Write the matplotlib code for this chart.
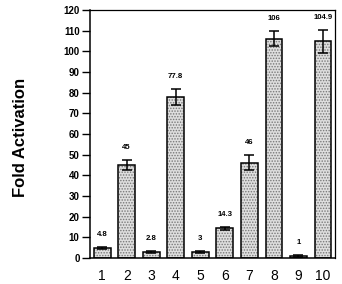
import matplotlib
matplotlib.use('Agg')
import matplotlib.pyplot as plt
import numpy as np

plt.rcParams['font.family'] = ['Liberation Sans', 'DejaVu Sans']
plt.rcParams['hatch.linewidth'] = 0.7

# data
lanes = ['1', '2', '3', '4', '5', '6', '7', '8', '9', '10']
fold = [4.8, 45, 2.8, 77.8, 3, 14.3, 46, 106, 1, 104.9]
err = [0.6, 2.4, 0.5, 4.0, 0.6, 0.8, 3.6, 3.6, 0.3, 5.5]
labels = ['4.8', '45', '2.8', '77.8', '3', '14.3', '46', '106', '1', '104.9']
yticks = list(range(0, 121, 10))

fig = plt.figure(figsize=(3.42, 2.84), dpi=100)
ax = fig.add_axes([0.263, 0.0915, 0.717, 0.8735])

x = np.arange(1, len(lanes) + 1)
w = 0.68

# stippled fill, then a black outline on top
ax.bar(x, fold, width=w, color='#dedede', edgecolor='#777777',
       hatch='......', linewidth=0, zorder=2)
ax.bar(x, fold, width=w, fill=False, edgecolor='black', linewidth=1.1, zorder=3)
ax.errorbar(x, fold, yerr=err, fmt='none', ecolor='black', elinewidth=1.1,
            capsize=3.5, capthick=1.1, zorder=4)

for xi, v, e, lab in zip(x, fold, err, labels):
    ax.annotate(lab, (xi, v + e), xytext=(0, 9), textcoords='offset points',
                ha='center', va='center', fontsize=5.6, fontweight='bold')

ax.set_xlim(0.5, len(lanes) + 0.5)
ax.set_ylim(0, 120)
ax.set_xticks(x)
ax.set_xticklabels(lanes, fontsize=10)
ax.set_yticks(yticks)
ax.set_yticklabels([str(t) for t in yticks], fontsize=7, fontweight='bold')
ax.tick_params(axis='x', length=0, pad=8)
ax.tick_params(axis='y', direction='out', length=6, width=1.0, pad=1.5)

for s in ax.spines.values():
    s.set_linewidth(1.1)
ax.spines['top'].set_linewidth(0.9)
ax.spines['right'].set_linewidth(0.9)

fig.text(0.06, 0.516, 'Fold Activation', rotation=90, ha='center', va='center',
         fontsize=12, fontweight='bold')

fig.savefig('out.png', dpi=100)
